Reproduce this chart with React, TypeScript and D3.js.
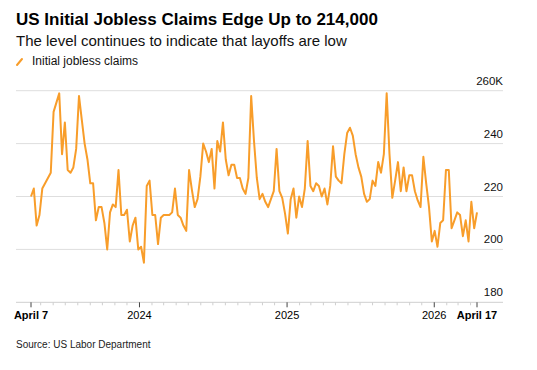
import React from "react";
import * as d3 from "d3";

// weekly initial jobless claims, thousands, starting 2023-04-07
const claims2023 = [
  220, 223, 209, 213, 223, 225, 227, 229, 252, 255.5,
  259, 236, 248, 230, 229, 231, 238, 258, 249, 240,
  234, 225, 225, 211, 216, 216, 210, 200, 214, 217,
  216, 230, 213, 213, 215, 203, 209, 212, 200,
];
const claims2024 = [
  201, 195, 224, 226, 213, 213, 202,
  212, 213, 213, 213, 214, 223, 213, 212, 209, 207,
  230, 222.5, 216, 219, 227.5, 240, 237, 233, 238, 223,
  241, 237, 248, 234, 228, 232, 232, 227, 227, 223,
  221, 227, 258, 241, 227, 219, 221, 218, 216, 219,
  222, 238, 222, 219.5, 213.5,
];
const claims2025 = [
  206,
  219, 223, 212, 220, 216, 223, 241, 224, 222, 225,
  224, 220, 223, 217, 224, 239, 227.5, 226, 225, 236,
  244, 246, 243, 236, 231, 227.5, 221, 218, 219, 226,
  224, 233, 229, 236, 259, 236, 219.5, 226, 233, 222,
  231, 222, 228, 228, 222, 218.5, 216, 235, 225, 216, 203,
];
const claims2026 = [207, 201, 210, 211, 230, 230, 208, 211, 214, 213, 205, 211, 203, 218, 208, 214];

const yTicks = [180, 200, 220, 240, 260];
const firstDate = new Date(2023, 3, 7);
const lastDate = new Date(2026, 3, 17);
const yearTicks = [new Date(2024, 0, 1), new Date(2025, 0, 1), new Date(2026, 0, 1)];

const FONT = "'Liberation Sans', Arial, Helvetica, sans-serif";
const ORANGE = "#f89d2a";

export default function App() {
  const width = 537;
  const height = 370;
  const left = 16;
  const right = 503;

  const values = [...claims2023, ...claims2024, ...claims2025, ...claims2026];
  const data = values.map((v, i) => ({ date: d3.timeWeek.offset(firstDate, i), value: v }));

  const x = d3.scaleTime().domain([firstDate, lastDate]).range([31, 477]);
  const y = d3.scaleLinear().domain([180, 260]).range([302.3, 90.7]);

  const line = d3
    .line<{ date: Date; value: number }>()
    .x((d) => x(d.date))
    .y((d) => y(d.value));

  const months = d3.timeMonth.range(new Date(2023, 4, 1), new Date(2026, 4, 1)).filter((m) => m.getMonth() !== 0);

  return (
    <svg width={width} height={height} style={{ position: "absolute", left: 0, top: 0, background: "#fff" }} fontFamily={FONT}>
      <text x={16} y={25} fontSize={17} fontWeight="bold" fill="#000">
        US Initial Jobless Claims Edge Up to 214,000
      </text>
      <text x={16} y={46} fontSize={15} fill="#111">
        The level continues to indicate that layoffs are low
      </text>

      {/* legend */}
      <line x1={17} y1={65} x2={22} y2={59} stroke={ORANGE} strokeWidth={2} strokeLinecap="round" />
      <text x={32} y={64.5} fontSize={12} fill="#111">
        Initial jobless claims
      </text>

      {/* grid + y labels */}
      {yTicks.map((t) => (
        <g key={t}>
          {t > 180 && <line x1={left} x2={right} y1={y(t)} y2={y(t)} stroke="#dedede" strokeWidth={1} />}
          <text x={right} y={y(t) - 6} fontSize={11.5} textAnchor="end" fill="#111">
            {t === 260 ? "260K" : t}
          </text>
        </g>
      ))}

      {/* x axis */}
      <line x1={left} x2={right} y1={y(180)} y2={y(180)} stroke="#cfcfcf" strokeWidth={1} />
      {months.map((m) => (
        <line key={m.getTime()} x1={x(m)} x2={x(m)} y1={y(180)} y2={y(180) + 3} stroke="#cfcfcf" />
      ))}
      {[firstDate, ...yearTicks, lastDate].map((d) => (
        <line key={d.getTime()} x1={x(d)} x2={x(d)} y1={y(180)} y2={y(180) + 5} stroke="#444" />
      ))}
      <text x={x(firstDate)} y={319} fontSize={11} fontWeight="bold" textAnchor="middle" fill="#000">
        April 7
      </text>
      {yearTicks.map((d) => (
        <text key={d.getTime()} x={x(d)} y={319} fontSize={11} textAnchor="middle" fill="#000">
          {d.getFullYear()}
        </text>
      ))}
      <text x={x(lastDate)} y={319} fontSize={11} fontWeight="bold" textAnchor="middle" fill="#000">
        April 17
      </text>

      <path d={line(data) || ""} fill="none" stroke={ORANGE} strokeWidth={2} strokeLinejoin="round" />

      <text x={16} y={348} fontSize={10} fill="#222">
        Source: US Labor Department
      </text>
    </svg>
  );
}
